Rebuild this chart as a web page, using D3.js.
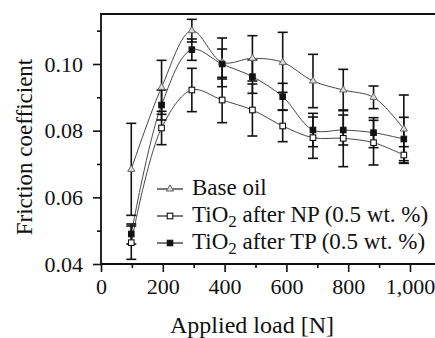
<!DOCTYPE html>
<html>
<head>
<meta charset="utf-8">
<script src="https://cdn.jsdelivr.net/npm/d3@7/dist/d3.min.js"></script>
<style>
  body { margin: 0; background: #fff; }
  text { font-family: "Liberation Serif", "Times New Roman", serif; fill: #111; }
</style>
</head>
<body>
<div id="chart"></div>
<script>
// applied loads (10 kgf steps)
const loads = [98, 196, 294, 392, 490, 588, 686, 784, 882, 980];

const baseOil = [0.0684, 0.0930, 0.1100, 0.1005, 0.1017, 0.1005, 0.0949, 0.0922, 0.0900, 0.0805];
const baseErr = [0.0138, 0.0081, 0.0034, 0.0073, 0.0068, 0.0090, 0.0080, 0.0062, 0.0034, 0.0102];

const npVals = [0.0464, 0.0808, 0.0922, 0.0892, 0.0862, 0.0814, 0.0779, 0.0777, 0.0764, 0.0727];
const npErr  = [0.0050, 0.0050, 0.0065, 0.0068, 0.0078, 0.0047, 0.0062, 0.0085, 0.0067, 0.0025];

const tpVals = [0.0490, 0.0877, 0.1043, 0.1000, 0.0962, 0.0902, 0.0802, 0.0802, 0.0794, 0.0775];
const tpErr  = [0.0030, 0.0045, 0.0032, 0.0045, 0.0050, 0.0040, 0.0050, 0.0045, 0.0045, 0.0065];

const xTicks = [0, 200, 400, 600, 800, 1000];
const yTicks = [0.04, 0.06, 0.08, 0.10];

const seriesNames = ["Base oil", "NP", "TP"];

const width = 435, height = 338;

const x = d3.scaleLinear().domain([0, 1000]).range([101, 410]);
const y = d3.scaleLinear().domain([0.04, 0.115]).range([264, 14]);

const svg = d3.select("#chart").append("svg")
    .attr("width", width)
    .attr("height", height);

const series = [
    {name: seriesNames[0], vals: baseOil, err: baseErr, marker: "tri"},
    {name: seriesNames[1], vals: npVals, err: npErr, marker: "open"},
    {name: seriesNames[2], vals: tpVals, err: tpErr, marker: "fill"}
];

// axes
const xAxis = d3.axisBottom(x).tickValues(xTicks).tickFormat(d3.format(",")).tickSize(8).tickPadding(6);
const xMinor = d3.axisBottom(x).tickValues([100, 300, 500, 700, 900]).tickFormat("").tickSize(4);
const yAxis = d3.axisLeft(y).tickValues(yTicks).tickFormat(d3.format(".2f")).tickSize(8).tickPadding(10);
const yMinor = d3.axisLeft(y).tickValues([0.05, 0.07, 0.09, 0.11]).tickFormat("").tickSize(4);

function styleAxis(g) {
    g.select(".domain").remove();
    g.selectAll("line").attr("stroke", "#111").attr("stroke-width", 1.6);
    g.selectAll("text").attr("font-size", 22).attr("fill", "#111")
        .style("font-family", '"Liberation Serif", "Times New Roman", serif');
}

svg.append("g").attr("transform", "translate(0,264)").call(xAxis).call(styleAxis);
svg.append("g").attr("transform", "translate(0,264)").call(xMinor).call(styleAxis);
svg.append("g").attr("transform", "translate(101,0)").call(yAxis).call(styleAxis);
svg.append("g").attr("transform", "translate(101,0)").call(yMinor).call(styleAxis);

// frame (right side is cut off in the source)
svg.append("path")
    .attr("d", `M${width},14H101V264H${width}`)
    .attr("fill", "none")
    .attr("stroke", "#111")
    .attr("stroke-width", 1.8);

// curves
const line = d3.line()
    .x((d, i) => x(loads[i]))
    .y(d => y(d))
    .curve(d3.curveCatmullRom.alpha(0.5));

series.forEach(s => {
    svg.append("path")
        .attr("d", line(s.vals))
        .attr("fill", "none")
        .attr("stroke", "#333")
        .attr("stroke-width", 0.9);
});

// error bars
series.forEach(s => {
    const g = svg.append("g").attr("stroke", "#111").attr("stroke-width", 1.6);
    s.vals.forEach((v, i) => {
        const cx = x(loads[i]), top = y(v + s.err[i]), bot = y(v - s.err[i]);
        g.append("line").attr("x1", cx).attr("x2", cx).attr("y1", top).attr("y2", bot);
        g.append("line").attr("x1", cx - 5).attr("x2", cx + 5).attr("y1", top).attr("y2", top);
        g.append("line").attr("x1", cx - 5).attr("x2", cx + 5).attr("y1", bot).attr("y2", bot);
    });
});

function drawMarker(g, type, cx, cy) {
    if (type === "tri") {
        g.append("path")
            .attr("d", d3.symbol().type(d3.symbolTriangle).size(22)())
            .attr("transform", `translate(${cx},${cy})`)
            .attr("fill", "#ddd").attr("stroke", "#666").attr("stroke-width", 1);
    } else if (type === "open") {
        g.append("rect").attr("x", cx - 2.8).attr("y", cy - 2.8).attr("width", 5.6).attr("height", 5.6)
            .attr("fill", "#fff").attr("stroke", "#111").attr("stroke-width", 1.1);
    } else {
        g.append("rect").attr("x", cx - 2.8).attr("y", cy - 2.8).attr("width", 5.6).attr("height", 5.6)
            .attr("fill", "#111").attr("stroke", "#111").attr("stroke-width", 1);
    }
}

series.forEach(s => {
    const g = svg.append("g");
    s.vals.forEach((v, i) => drawMarker(g, s.marker, x(loads[i]), y(v)));
});

// legend
const legendRows = [189, 216, 243];
series.forEach((s, i) => {
    const ly = legendRows[i];
    const g = svg.append("g");
    g.append("line").attr("x1", 157).attr("x2", 183).attr("y1", ly).attr("y2", ly)
        .attr("stroke", "#222").attr("stroke-width", 1.2);
    drawMarker(g, s.marker, 170, ly);
    const t = g.append("text").attr("x", 192).attr("y", ly + 6).attr("font-size", 23);
    if (i === 0) {
        t.text("Base oil");
    } else {
        t.append("tspan").text("TiO");
        t.append("tspan").attr("font-size", 17).attr("dy", 5).text("2");
        t.append("tspan").attr("dy", -5).text(" after " + s.name + " (0.5 wt. %)");
    }
});

// axis titles
svg.append("text")
    .attr("x", 252).attr("y", 333)
    .attr("text-anchor", "middle")
    .attr("font-size", 24)
    .text("Applied load [N]");

svg.append("text")
    .attr("transform", "translate(32,147) rotate(-90)")
    .attr("text-anchor", "middle")
    .attr("font-size", 23)
    .text("Friction coefficient");
</script>
</body>
</html>
